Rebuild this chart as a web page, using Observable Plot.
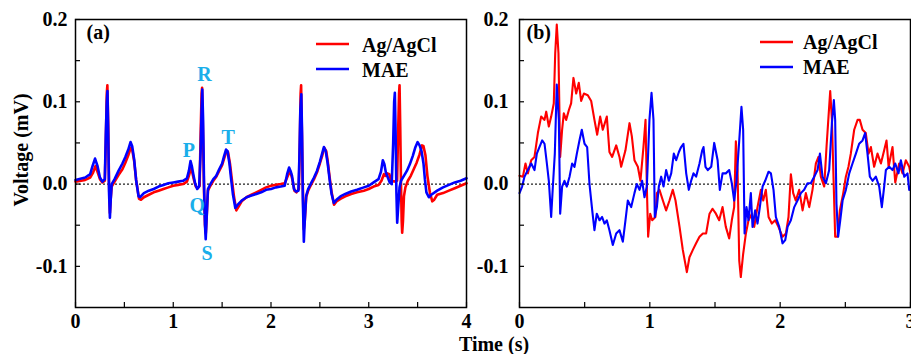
<!DOCTYPE html>
<html><head><meta charset="utf-8">
<script src="https://cdn.jsdelivr.net/npm/d3@7"></script>
<script src="https://cdn.jsdelivr.net/npm/@observablehq/plot@0.6"></script>
<style>
body{margin:0;background:#fff;}
#wrap{position:relative;width:911px;height:354px;overflow:hidden;font-family:"Liberation Serif","Times New Roman",serif;font-weight:bold;}
#wrap > svg{position:absolute;top:0;}
#overlay{position:absolute;left:0;top:0;pointer-events:none;}
</style></head><body><div id="wrap"></div>
<script>
// ---------- data ----------
const seriesNames = ["Ag/AgCl", "MAE"];
const seriesColors = ["#ff0000", "#0000ff"];

const yTicks = [-0.1, -0.05, 0, 0.05, 0.1, 0.15, 0.2];
const yLabelTicks = [-0.1, 0, 0.1, 0.2];
const yLabelText = ["-0.1", "0.0", "0.1", "0.2"];
const xTicksA = [0, 0.5, 1, 1.5, 2, 2.5, 3, 3.5, 4];
const xTicksB = [0, 0.5, 1, 1.5, 2, 2.5, 3];

// panel (a): Ag/AgCl
const aTimeAg = [0,0.10,0.15,0.18,0.205,0.225,0.25,0.275,0.30,0.31,0.32,0.326,0.335,0.343,0.352,0.36,0.37,0.40,0.44,0.48,0.51,0.54,0.565,0.58,0.60,0.62,0.65,0.67,0.70,0.75,0.80,0.85,0.90,0.95,1.00,1.05,1.10,1.14,1.16,1.18,1.195,1.21,1.23,1.25,1.27,1.28,1.29,1.295,1.303,1.315,1.325,1.333,1.342,1.355,1.38,1.41,1.44,1.47,1.50,1.52,1.545,1.56,1.58,1.60,1.62,1.645,1.67,1.70,1.75,1.80,1.85,1.90,1.95,2.00,2.05,2.10,2.14,2.165,2.19,2.205,2.22,2.24,2.26,2.285,2.295,2.303,2.308,2.315,2.325,2.335,2.345,2.36,2.38,2.405,2.44,2.47,2.50,2.525,2.545,2.565,2.58,2.60,2.62,2.645,2.67,2.71,2.76,2.82,2.88,2.95,3.00,3.05,3.10,3.13,3.155,3.17,3.19,3.21,3.23,3.26,3.29,3.30,3.31,3.315,3.322,3.33,3.337,3.342,3.35,3.36,3.375,3.40,3.43,3.46,3.49,3.52,3.545,3.56,3.58,3.60,3.625,3.65,3.67,3.70,3.76,3.82,3.88,3.94,4.0];
const aAg = [0.003,0.005,0.008,0.014,0.022,0.015,0.006,0.002,0.004,0.05,0.11,0.120,0.07,0.0,-0.035,-0.018,-0.003,0.003,0.011,0.018,0.026,0.035,0.044,0.042,0.028,0.005,-0.018,-0.019,-0.016,-0.013,-0.010,-0.008,-0.006,-0.004,-0.002,-0.001,0.000,0.003,0.010,0.019,0.014,0.006,-0.003,-0.005,-0.002,0.06,0.11,0.117,0.07,-0.01,-0.05,-0.060,-0.04,-0.008,-0.002,0.004,0.009,0.016,0.023,0.031,0.040,0.039,0.025,0.005,-0.014,-0.032,-0.027,-0.021,-0.016,-0.013,-0.010,-0.007,-0.004,-0.002,-0.001,0.000,0.001,0.008,0.015,0.012,0.005,-0.008,-0.010,-0.006,0.05,0.110,0.120,0.07,0.0,-0.055,-0.045,-0.016,-0.008,-0.002,0.006,0.014,0.025,0.035,0.044,0.040,0.028,0.008,-0.010,-0.025,-0.021,-0.018,-0.015,-0.012,-0.010,-0.008,-0.006,-0.003,-0.001,0.004,0.012,0.010,0.013,0.012,0.004,0.003,0.004,0.06,0.11,0.120,0.07,0.0,-0.045,-0.059,-0.045,-0.015,-0.004,0.004,0.010,0.018,0.026,0.036,0.047,0.046,0.035,0.010,-0.010,-0.021,-0.019,-0.013,-0.011,-0.008,-0.005,-0.002,0.001];

// panel (a): MAE
const aTimeMae = [0,0.10,0.15,0.175,0.20,0.225,0.25,0.275,0.30,0.31,0.32,0.327,0.335,0.343,0.352,0.36,0.37,0.40,0.44,0.48,0.51,0.54,0.563,0.58,0.60,0.62,0.645,0.66,0.70,0.75,0.80,0.85,0.90,0.95,1.00,1.05,1.10,1.14,1.16,1.177,1.19,1.205,1.225,1.245,1.265,1.28,1.29,1.297,1.305,1.315,1.325,1.332,1.34,1.355,1.38,1.41,1.44,1.47,1.50,1.52,1.54,1.555,1.575,1.59,1.61,1.635,1.66,1.70,1.75,1.80,1.85,1.90,1.95,2.00,2.05,2.10,2.14,2.165,2.185,2.20,2.215,2.235,2.255,2.28,2.29,2.30,2.31,2.318,2.326,2.336,2.345,2.36,2.38,2.405,2.44,2.47,2.50,2.525,2.541,2.56,2.58,2.60,2.62,2.643,2.67,2.71,2.76,2.82,2.88,2.95,3.00,3.05,3.10,3.125,3.144,3.16,3.175,3.195,3.215,3.235,3.25,3.26,3.267,3.275,3.283,3.291,3.30,3.315,3.33,3.36,3.39,3.42,3.45,3.475,3.50,3.52,3.54,3.56,3.575,3.59,3.615,3.64,3.70,3.76,3.82,3.88,3.94,4.0];
const aMae = [0.005,0.008,0.012,0.022,0.031,0.022,0.008,0.003,0.006,0.06,0.10,0.113,0.06,-0.01,-0.041,-0.02,0.000,0.006,0.016,0.025,0.033,0.042,0.051,0.046,0.030,0.005,-0.015,-0.016,-0.011,-0.008,-0.006,-0.003,-0.001,0.001,0.002,0.003,0.004,0.007,0.016,0.028,0.022,0.012,0.000,-0.006,-0.003,0.04,0.09,0.115,0.08,0.0,-0.05,-0.067,-0.045,-0.006,0.000,0.006,0.010,0.018,0.025,0.034,0.042,0.040,0.025,0.008,-0.012,-0.029,-0.025,-0.020,-0.016,-0.014,-0.012,-0.010,-0.007,-0.006,-0.004,-0.003,-0.002,0.012,0.020,0.016,0.010,-0.006,-0.009,-0.008,0.03,0.09,0.109,0.06,-0.02,-0.070,-0.045,-0.014,-0.006,0.000,0.008,0.016,0.027,0.038,0.045,0.040,0.025,0.005,-0.012,-0.023,-0.019,-0.015,-0.012,-0.009,-0.007,-0.004,-0.002,0.002,0.006,0.015,0.029,0.024,0.014,0.008,0.002,0.000,0.05,0.10,0.111,0.06,-0.01,-0.047,-0.03,-0.004,0.004,0.010,0.016,0.024,0.034,0.044,0.051,0.047,0.040,0.025,0.005,-0.010,-0.016,-0.013,-0.008,-0.004,-0.001,0.002,0.004,0.007];

// panel (b): Ag/AgCl
const bTimeAg = [0,0.026,0.046,0.064,0.09,0.115,0.141,0.166,0.192,0.205,0.225,0.243,0.263,0.274,0.286,0.299,0.312,0.327,0.340,0.358,0.379,0.396,0.414,0.435,0.455,0.473,0.494,0.524,0.55,0.575,0.596,0.619,0.639,0.67,0.69,0.711,0.742,0.767,0.78,0.813,0.844,0.862,0.882,0.908,0.928,0.951,0.967,0.977,0.987,1.003,1.018,1.043,1.054,1.074,1.10,1.125,1.151,1.176,1.197,1.228,1.253,1.284,1.304,1.33,1.355,1.381,1.407,1.432,1.458,1.481,1.507,1.532,1.558,1.583,1.609,1.629,1.647,1.66,1.673,1.686,1.698,1.716,1.737,1.757,1.783,1.801,1.826,1.852,1.87,1.89,1.911,1.936,1.962,1.987,2.018,2.044,2.064,2.082,2.10,2.12,2.146,2.172,2.197,2.223,2.248,2.274,2.294,2.312,2.338,2.356,2.371,2.384,2.397,2.41,2.422,2.44,2.458,2.484,2.504,2.524,2.542,2.568,2.594,2.611,2.632,2.657,2.678,2.696,2.721,2.747,2.773,2.798,2.816,2.832,2.862,2.883,2.913,2.939,2.964,2.99,3.0];
const bAg = [0.010,0.009,0.025,0.013,0.029,0.033,0.062,0.082,0.078,0.088,0.070,0.082,0.098,0.159,0.194,0.159,0.033,0.066,0.086,0.078,0.090,0.098,0.129,0.110,0.123,0.101,0.110,0.108,0.101,0.078,0.060,0.082,0.066,0.082,0.039,0.033,0.047,0.033,0.021,0.041,0.074,0.058,0.029,0.021,0.004,0.045,0.078,-0.003,-0.064,-0.036,-0.044,-0.040,-0.011,-0.007,-0.020,-0.032,-0.020,-0.007,-0.020,-0.052,-0.080,-0.107,-0.089,-0.080,-0.072,-0.064,-0.060,-0.060,-0.036,-0.030,-0.036,-0.044,-0.028,-0.052,-0.066,-0.044,-0.028,0.052,0.017,-0.093,-0.113,-0.085,-0.060,-0.044,-0.036,-0.052,-0.028,-0.007,-0.020,-0.007,-0.040,-0.048,-0.044,-0.052,-0.064,-0.060,-0.040,0.012,-0.011,-0.020,-0.007,-0.032,-0.011,-0.028,-0.007,0.025,0.033,0.009,-0.003,0.046,0.082,0.113,0.078,0.004,-0.064,-0.064,-0.032,-0.011,0.009,0.021,0.037,0.066,0.078,0.078,0.066,0.062,0.037,0.045,0.021,0.037,0.025,0.041,0.053,0.021,0.045,0.002,0.025,0.013,0.029,0.021,0.013];

// panel (b): MAE
const bTimeMae = [0,0.02,0.038,0.064,0.09,0.115,0.133,0.153,0.174,0.192,0.21,0.225,0.243,0.256,0.271,0.286,0.302,0.312,0.327,0.345,0.363,0.384,0.404,0.422,0.44,0.46,0.478,0.499,0.519,0.537,0.558,0.575,0.593,0.614,0.634,0.652,0.67,0.69,0.716,0.742,0.767,0.793,0.813,0.831,0.857,0.882,0.90,0.921,0.941,0.959,0.977,0.997,1.013,1.028,1.038,1.054,1.069,1.087,1.105,1.125,1.146,1.164,1.184,1.202,1.223,1.24,1.258,1.279,1.299,1.317,1.335,1.355,1.381,1.402,1.412,1.427,1.445,1.471,1.494,1.52,1.537,1.558,1.583,1.609,1.629,1.647,1.665,1.686,1.703,1.716,1.727,1.742,1.757,1.775,1.788,1.808,1.826,1.844,1.865,1.885,1.911,1.929,1.949,1.967,1.993,2.018,2.039,2.057,2.082,2.108,2.133,2.159,2.184,2.21,2.235,2.261,2.287,2.305,2.325,2.351,2.376,2.397,2.412,2.422,2.432,2.445,2.461,2.479,2.504,2.53,2.555,2.581,2.606,2.632,2.652,2.67,2.688,2.709,2.734,2.76,2.78,2.798,2.811,2.837,2.862,2.883,2.908,2.926,2.952,2.977,2.99,3.0];
const bMae = [-0.011,-0.003,0.009,0.017,0.025,0.017,0.037,0.045,0.053,0.049,0.025,0.004,-0.040,-0.003,0.037,0.121,0.078,-0.036,-0.003,0.004,-0.003,0.009,0.025,0.021,0.037,0.053,0.066,0.049,0.045,0.000,-0.032,-0.056,-0.036,-0.044,-0.040,-0.048,-0.044,-0.056,-0.074,-0.060,-0.056,-0.070,-0.044,-0.020,-0.028,-0.011,0.000,-0.007,0.004,-0.016,-0.003,0.078,0.111,0.078,-0.040,-0.028,-0.003,0.009,-0.003,0.017,0.004,0.013,0.037,0.029,0.039,0.045,0.049,0.013,-0.007,0.004,0.013,0.009,0.025,0.041,0.045,0.021,0.017,0.021,0.050,0.029,-0.007,0.013,0.013,0.017,0.001,-0.020,0.004,0.053,0.094,0.066,-0.060,-0.028,-0.044,-0.011,-0.052,-0.032,-0.048,-0.028,-0.003,0.004,0.015,0.013,-0.007,-0.040,-0.052,-0.072,-0.068,-0.052,-0.044,-0.028,-0.020,-0.011,-0.007,0.001,0.001,0.009,0.017,0.037,0.009,0.001,0.017,0.074,0.102,0.078,-0.024,-0.064,-0.044,-0.020,-0.007,0.013,0.025,0.037,0.049,0.053,0.062,0.037,0.009,0.004,0.009,-0.003,-0.028,-0.003,0.017,0.021,0.017,0.025,0.013,0.029,0.009,0.013,-0.007,-0.003];

// wave annotations on panel (a)
const waveNames = ["P", "Q", "R", "S", "T"];
const waveTime = [1.159, 1.245, 1.32, 1.347, 1.562];
const waveVolt = [0.041, -0.0256, 0.133, -0.084, 0.056];

// ---------- build ----------
const FONT = '"Liberation Serif","Times New Roman",serif';
const toRows = (ts, vs) => ts.map((t, i) => ({t, v: vs[i]}));
const yFmt = d => { const i = yLabelTicks.findIndex(v => Math.abs(v - d) < 1e-9); return i >= 0 ? yLabelText[i] : ""; };
const xFmt = d => Number.isInteger(d) ? String(d) : "";

function panel({width, marginLeft, marginRight, xDomain, xTicks, ag, mae, lw, tag, tagDx, tagDy, yPad, extra = []}) {
  return Plot.plot({
    width, height: 354, marginTop: 19, marginBottom: 47, marginLeft, marginRight,
    style: {fontFamily: FONT, fontWeight: "bold", fontSize: "20px", color: "black", background: "transparent", overflow: "visible"},
    x: {domain: xDomain},
    y: {domain: [-0.15, 0.2]},
    marks: [
      Plot.ruleY([0], {stroke: "#222", strokeDasharray: "2,2", strokeWidth: 1.2}),
      Plot.line(ag, {x: "t", y: "v", stroke: seriesColors[0], strokeWidth: lw, strokeLinejoin: "round"}),
      Plot.line(mae, {x: "t", y: "v", stroke: seriesColors[1], strokeWidth: lw, strokeLinejoin: "round"}),
      ...extra,
      Plot.frame({stroke: "black", strokeWidth: 1.5}),
      Plot.axisX({ticks: xTicks, tickSize: -5, tickPadding: 11, tickFormat: xFmt, label: null, fontSize: 20, fontWeight: "bold", strokeWidth: 1.2}),
      Plot.axisY({ticks: yTicks, tickSize: -5, tickPadding: yPad, tickFormat: yFmt, label: null, fontSize: 20, fontWeight: "bold", strokeWidth: 1.2}),
      Plot.text([tag], {frameAnchor: "top-left", text: d => d, dx: tagDx, dy: tagDy, textAnchor: "start", lineAnchor: "top", fontSize: 20, fontWeight: "bold"})
    ]
  });
}

const waveRows = waveNames.map((n, i) => ({n, t: waveTime[i], v: waveVolt[i]}));

const chartA = panel({
  width: 470, marginLeft: 75, marginRight: 4, xDomain: [0, 4], xTicks: xTicksA,
  ag: toRows(aTimeAg, aAg), mae: toRows(aTimeMae, aMae), lw: 2.6,
  tag: "(a)", tagDx: 11, tagDy: 5, yPad: 13,
  extra: [Plot.text(waveRows, {x: "t", y: "v", text: "n", fill: "#1aaeea", fontSize: 20, fontWeight: "bold"})]
});
const chartB = panel({
  width: 461, marginLeft: 69, marginRight: 1, xDomain: [0, 3], xTicks: xTicksB,
  ag: toRows(bTimeAg, bAg), mae: toRows(bTimeMae, bMae), lw: 2.1,
  tag: "(b)", tagDx: 7, tagDy: 5, yPad: 16
});

const wrap = document.getElementById("wrap");
chartA.style.left = "0px";
chartB.style.left = "450px";
wrap.appendChild(chartB);
wrap.appendChild(chartA);

// legends and axis titles
const ns = "http://www.w3.org/2000/svg";
const ov = document.createElementNS(ns, "svg");
ov.setAttribute("id", "overlay");
ov.setAttribute("width", 911); ov.setAttribute("height", 354);
function el(tag, attrs, txt) {
  const e = document.createElementNS(ns, tag);
  for (const k in attrs) e.setAttribute(k, attrs[k]);
  if (txt != null) e.textContent = txt;
  ov.appendChild(e); return e;
}
const legends = [
  {x1: 316, x2: 349, tx: 362, ys: [44, 69], by: [52, 77]},
  {x1: 760, x2: 793, tx: 803, ys: [42, 67], by: [49, 74]}
];
legends.forEach(L => seriesNames.forEach((name, i) => {
  el("line", {x1: L.x1, x2: L.x2, y1: L.ys[i], y2: L.ys[i], stroke: seriesColors[i], "stroke-width": 2.5});
  el("text", {x: L.tx, y: L.by[i], "font-family": FONT, "font-weight": "bold", "font-size": 20}, name);
}));
el("text", {x: 494, y: 351, "text-anchor": "middle", "font-family": FONT, "font-weight": "bold", "font-size": 20}, "Time (s)");
el("text", {transform: "translate(28,150) rotate(-90)", "text-anchor": "middle", "font-family": FONT, "font-weight": "bold", "font-size": 20}, "Voltage (mV)");
wrap.appendChild(ov);
</script></body></html>
